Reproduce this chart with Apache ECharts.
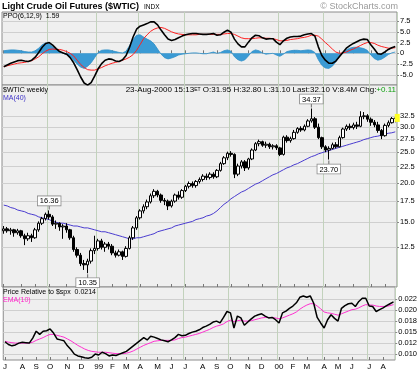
<!DOCTYPE html>
<html><head><meta charset="utf-8">
<script src="https://cdn.jsdelivr.net/npm/echarts@6/dist/echarts.min.js"></script>
<style>html,body{margin:0;padding:0;background:#fff}#c{width:420px;height:371px}</style>
</head><body><div id="c"></div>
<script>
// ---------- categories: week-ending trading days ----------
const weekEnds = (function(){const out=[];let d=new Date(Date.UTC(1998,6,3));for(let k=0;k<113;k++){out.push(d.toISOString().slice(0,10));d=new Date(d.getTime()+7*864e5);}return out;})();
const holidayWeekEnds = {'1999-01-01':'1998-12-31'};
const weeks = weekEnds.map(s => holidayWeekEnds[s] || s);

// ---------- price: [open, close, low, high] ----------
const ohlc = [
[14.1,14.3,13.8,14.6],[14.3,14.1,13.9,14.5],[14.1,14.2,13.7,14.4],[14.2,13.9,13.5,14.3],[13.9,14.1,13.7,14.3],
[14.1,13.6,13.4,14.2],[13.6,13.3,12.7,13.8],[13.3,13.6,13.1,13.9],[13.6,13.4,13.0,13.8],[13.4,14.2,13.3,14.4],
[14.2,14.9,14.0,15.1],[14.9,15.4,14.7,15.6],[15.4,15.9,15.2,16.1],[15.9,15.6,15.3,16.36],[15.6,14.8,14.6,15.8],
[14.8,14.9,14.3,15.2],[14.9,14.5,14.1,15.0],[14.5,14.6,13.3,14.8],[14.6,14.2,13.9,14.9],[14.2,13.4,13.2,14.3],
[13.4,12.3,12.1,13.6],[12.3,11.8,11.6,12.5],[11.8,11.1,10.9,12.0],[11.1,11.0,10.6,11.4],[11.0,11.3,10.35,11.5],
[11.3,12.2,11.1,12.4],[12.2,12.4,11.9,13.6],[12.4,13.1,12.2,13.3],[13.1,12.5,12.3,13.3],[12.5,12.8,12.1,13.0],
[12.8,12.6,12.3,13.0],[12.6,12.0,11.8,12.8],[12.0,11.8,11.6,12.2],[11.8,12.1,11.7,12.3],[12.1,11.7,11.4,12.2],
[11.7,12.4,11.6,12.6],[12.4,13.4,12.3,13.6],[13.4,14.4,13.2,14.6],[14.4,15.5,14.2,15.7],[15.5,16.3,15.3,16.5],
[16.3,16.8,16.0,17.1],[16.8,17.4,16.5,17.7],[17.4,18.2,17.2,18.5],[18.2,18.8,17.9,19.1],[18.8,18.3,18.0,19.0],
[18.3,17.6,17.3,18.5],[17.6,17.5,17.0,17.9],[17.5,16.9,16.4,17.7],[16.9,17.5,16.7,17.7],[17.5,18.3,17.3,18.5],
[18.3,18.0,17.7,18.8],[18.0,18.9,17.8,19.1],[18.9,19.5,18.7,19.7],[19.5,19.9,19.2,20.2],[19.9,19.6,19.3,20.2],
[19.6,20.2,19.3,20.4],[20.2,20.5,19.9,20.8],[20.5,21.0,20.2,21.3],[21.0,20.8,20.4,21.4],[20.8,21.3,20.5,21.6],
[21.3,20.9,20.6,21.6],[20.9,21.9,20.7,22.1],[21.9,23.0,21.7,23.3],[23.0,24.0,22.8,24.3],[24.0,24.8,23.6,25.1],
[24.8,24.6,24.2,25.2],[24.6,21.3,20.7,24.8],[21.3,22.6,21.0,23.0],[22.6,23.3,22.2,23.6],[23.3,22.3,21.8,23.6],
[22.3,23.8,22.0,24.0],[23.8,25.4,23.6,25.7],[25.4,26.6,25.2,26.9],[26.6,27.0,26.1,27.4],[27.0,26.3,26.0,27.2],
[26.3,26.5,25.8,27.0],[26.5,26.0,25.6,26.8],[26.0,26.2,25.5,26.5],[26.2,25.8,25.4,26.5],[25.8,24.6,24.3,26.0],
[24.6,27.9,24.4,28.2],[27.9,27.2,26.8,28.3],[27.2,27.6,26.8,28.0],[27.6,28.9,27.4,29.4],[28.9,29.7,28.6,30.0],
[29.7,29.4,29.0,30.2],[29.4,30.2,29.1,30.6],[30.2,31.4,30.0,31.8],[31.4,31.9,31.0,34.37],[31.9,30.0,29.6,32.3],
[30.0,27.8,27.5,30.8],[27.8,26.0,25.6,28.0],[26.0,25.4,25.0,26.3],[25.4,25.7,23.70,26.1],[25.7,26.4,25.5,26.8],
[26.4,26.0,25.7,26.9],[26.0,27.8,25.9,28.2],[27.8,29.6,27.6,29.9],[29.6,30.2,29.2,30.6],[30.2,29.9,29.4,30.8],
[29.9,30.5,29.5,31.0],[30.5,30.2,29.6,31.2],[30.2,32.4,30.0,33.7],[32.4,32.6,31.8,33.5],[32.6,31.8,31.2,33.0],
[31.8,31.1,30.3,32.2],[31.1,30.5,30.0,31.6],[30.5,29.3,28.8,31.2],[29.3,28.2,27.5,29.6],[28.2,30.4,28.0,30.8],
[30.4,31.0,30.0,31.5],[31.0,31.95,30.8,32.3],[31.95,32.10,31.10,32.80]
];
const ma40 = [
17.0,16.9,16.7,16.6,16.4,16.3,16.2,16.0,15.9,15.8,15.6,15.5,15.4,15.3,15.1,15.0,
14.9,14.9,14.8,14.7,14.6,14.6,14.5,14.4,14.4,14.3,14.2,14.1,14.0,14.0,13.9,
13.8,13.7,13.6,13.5,13.4,13.3,13.3,13.4,13.4,13.5,13.6,13.7,13.8,14.0,14.1,
14.2,14.3,14.4,14.6,14.7,14.8,14.9,15.0,15.1,15.3,15.4,15.5,15.7,15.8,16.0,
16.3,16.7,17.1,17.4,17.8,18.1,18.4,18.7,18.9,19.2,19.5,19.8,20.0,20.3,20.6,
20.9,21.2,21.4,21.7,22.0,22.3,22.5,22.8,23.0,23.3,23.6,23.9,24.2,24.4,24.7,
24.9,25.1,25.3,25.5,25.7,25.9,26.1,26.3,26.5,26.7,26.9,27.1,27.4,27.6,27.8,
28.0,28.1,28.3,28.5,28.7,28.8,29.0
];
const priceTicks = [12.5,15,17.5,20,22.5,25,27.5,30,32.5];
const extremeHighs = [16.36, 34.37];
const extremeLows = [10.35, 23.70];
const lastPrice = 32.10;

// ---------- PPO(6,12,9) ----------
const ppo = [
-3.1,-2.7,-2.3,-2.0,-1.7,-1.6,-1.8,-1.9,-1.6,-0.9,
0.2,1.4,2.3,2.5,1.9,1.1,0.4,0.1,-0.2,-1.0,
-2.2,-3.8,-5.5,-6.9,-7.4,-6.8,-5.3,-3.6,-2.4,-1.6,
-1.3,-1.4,-1.8,-1.9,-1.5,-0.5,1.4,3.8,5.6,6.3,
6.6,6.9,7.3,7.3,6.6,5.4,4.3,3.3,3.0,3.2,
3.6,4.0,4.3,4.5,4.6,4.6,4.5,4.4,4.4,4.5,
4.6,4.2,4.3,4.9,5.4,4.9,3.3,2.2,1.5,1.5,
2.6,3.6,4.2,4.1,3.6,3.3,3.4,3.4,2.6,2.0,
2.9,3.5,3.8,3.9,3.9,4.0,4.3,4.5,4.6,4.0,
1.5,-0.5,-1.6,-2.3,-2.3,-1.8,-0.8,0.2,1.2,1.8,
2.3,2.7,3.1,3.3,3.2,2.0,1.0,-0.1,-0.2,0.3,
0.9,1.3,1.59
];
const ppoSignal = [
-3.1,-2.9,-2.7,-2.5,-2.3,-2.2,-2.1,-1.9,-1.7,-1.3,
-0.8,-0.1,0.5,0.9,1.0,0.9,0.9,0.7,0.4,0.0,
-0.6,-1.6,-2.6,-3.3,-3.8,-3.9,-3.9,-3.6,-3.3,-2.9,
-2.6,-2.3,-2.1,-1.9,-1.6,-1.3,-0.9,-0.3,0.7,2.0,
3.4,4.3,5.1,5.6,5.9,6.0,5.8,5.4,5.0,4.7,
4.5,4.4,4.3,4.3,4.3,4.3,4.4,4.4,4.4,4.4,
4.4,4.4,4.4,4.5,4.6,4.6,4.4,4.0,3.6,3.4,
3.4,3.4,3.5,3.6,3.6,3.5,3.5,3.4,3.2,2.9,
2.9,3.0,3.2,3.3,3.4,3.6,3.7,3.9,4.2,4.2,
4.0,3.3,2.5,1.8,1.0,0.3,0.0,0.1,0.3,0.7,
1.0,1.4,1.8,2.2,2.5,2.5,2.3,1.9,1.6,1.4,
1.2,1.2,1.3
];
const ppoHist = [
0.6,0.7,0.8,0.8,0.7,0.6,0.4,0.3,0.3,0.6,
1.2,2.0,2.4,2.2,1.5,0.9,0.4,0.0,-0.3,-0.8,
-1.6,-2.5,-3.2,-3.5,-3.0,-2.2,-1.0,0.2,0.7,0.8,
0.8,0.6,0.4,0.2,0.1,0.5,1.8,3.2,4.2,4.3,
3.8,3.3,2.9,2.2,1.0,-0.2,-1.0,-1.3,-1.1,-0.8,
-0.4,-0.2,-0.1,0.0,0.1,0.1,0.0,-0.1,-0.1,0.1,
0.3,0.0,0.2,0.6,0.8,0.5,-0.8,-1.5,-1.8,-1.5,
-0.6,0.4,0.8,0.6,0.1,-0.2,-0.1,0.0,-0.4,-0.7,
-0.2,0.4,0.6,0.7,0.7,0.6,0.7,0.8,0.7,0.2,
-1.5,-2.8,-3.4,-3.5,-3.0,-2.0,-0.8,0.1,0.8,1.2,
1.4,1.4,1.3,1.1,0.7,-0.4,-1.2,-1.6,-1.4,-0.9,
-0.3,0.1,0.3
];
const ppoTicks = [-5,-2.5,0,2.5,5,7.5];

// ---------- Price relative to $SPX ----------
const relSpx = [
0.0127,0.0121,0.0118,0.0120,0.0124,0.0126,0.0125,0.0124,0.0135,0.0150,
0.0143,0.0150,0.0151,0.0155,0.0146,0.0133,0.0131,0.0129,0.0118,0.0110,
0.0100,0.0096,0.0094,0.0092,0.0091,0.0093,0.0100,0.0098,0.0104,0.0101,
0.0096,0.0098,0.0097,0.0100,0.0103,0.0106,0.0112,0.0118,0.0124,0.0130,
0.0136,0.0131,0.0139,0.0137,0.0134,0.0131,0.0129,0.0127,0.0131,0.0136,
0.0143,0.0140,0.0141,0.0145,0.0148,0.0150,0.0153,0.0158,0.0161,0.0165,
0.0170,0.0172,0.0168,0.0180,0.0193,0.0190,0.0157,0.0183,0.0179,0.0163,
0.0170,0.0177,0.0183,0.0186,0.0188,0.0183,0.0179,0.0180,0.0175,0.0168,
0.0190,0.0194,0.0200,0.0205,0.0212,0.0224,0.0227,0.0224,0.0227,0.0211,
0.0180,0.0168,0.0157,0.0175,0.0186,0.0178,0.0172,0.0200,0.0206,0.0210,
0.0211,0.0204,0.0215,0.0222,0.0222,0.0205,0.0204,0.0193,0.0197,0.0201,
0.0206,0.0210,0.0214
];
const relEma10 = [
0.0128,0.0126,0.0125,0.0124,0.0124,0.0124,0.0124,0.0124,0.0126,0.0130,
0.0133,0.0136,0.0140,0.0143,0.0143,0.0141,0.0139,0.0137,0.0133,0.0129,
0.0124,0.0119,0.0115,0.0111,0.0108,0.0106,0.0105,0.0104,0.0104,0.0104,
0.0103,0.0102,0.0101,0.0101,0.0101,0.0102,0.0104,0.0107,0.0111,0.0115,
0.0119,0.0122,0.0125,0.0128,0.0129,0.0130,0.0130,0.0130,0.0130,0.0131,
0.0134,0.0136,0.0137,0.0139,0.0141,0.0143,0.0145,0.0148,0.0151,0.0154,
0.0158,0.0161,0.0163,0.0166,0.0171,0.0174,0.0171,0.0173,0.0174,0.0172,
0.0172,0.0173,0.0175,0.0177,0.0179,0.0180,0.0180,0.0180,0.0179,0.0177,
0.0179,0.0182,0.0185,0.0188,0.0192,0.0198,0.0203,0.0207,0.0210,0.0210,
0.0205,0.0199,0.0192,0.0190,0.0189,0.0187,0.0185,0.0188,0.0191,0.0194,
0.0197,0.0198,0.0201,0.0205,0.0208,0.0207,0.0207,0.0205,0.0204,0.0204,
0.0204,0.0206,0.0208
];
const relTicks = [0.010,0.0124,0.0148,0.0172,0.0196,0.022];
const relTickLabels = ['0.010','0.012','0.015','0.018','0.020','0.022'];

// ---------- chart ----------
const FONT = '"Liberation Sans", Arial, sans-serif';
const monthStart = weeks.map((w,i)=> i===0 || w.slice(5,7)!==weeks[i-1].slice(5,7));
const quarterLine = weeks.map((w,i)=> i>0 && monthStart[i] && ['01','04','07','10'].includes(w.slice(5,7)));
function monthLabel(w){const m=+w.slice(5,7);return m===1 ? w.slice(2,4) : 'JFMAMJJASOND'[m-1];}

function catX(g, showLabel){
  return {type:'category', gridIndex:g, data:weeks, boundaryGap:true,
    axisLine:{show:false},
    axisTick:{show:true, inside:true, length:3, alignWithLabel:true, interval:(i)=>monthStart[i], lineStyle:{color:'#777'}},
    axisLabel:{show:showLabel, interval:(i)=>monthStart[i], formatter:(v)=>monthLabel(v), fontSize:8, color:'#000', margin:3, fontFamily:FONT},
    splitLine:{show:true, interval:(i)=>quarterLine[i], lineStyle:{color:'#c2d2bc', width:1}}};
}
function valY(g, min, max, ticks, fmt){
  return {type:'value', gridIndex:g, position:'right', min:min, max:max,
    axisLine:{show:false},
    axisTick:{show:true, length:2, customValues:ticks, lineStyle:{color:'#888'}},
    axisLabel:{customValues:ticks, formatter:fmt, fontSize:7.5, color:'#000', margin:3, fontFamily:FONT},
    splitLine:{show:true, lineStyle:{color:'#cfcfcf', width:1}}};
}
const gridStyle = {left:2, right:23, show:true, backgroundColor:'#efefef', borderColor:'#8c8c8c', borderWidth:1};
const ln = Math.log;
const lastIdx = weeks.length-1;
const markHigh = extremeHighs.map(v=>({coord:[weeks[ohlc.findIndex(r=>r[3]===v)], ln(v)], value:v,
   symbolOffset:[0,-3], label:{position:'top', distance:0, formatter:v.toFixed(2)}}));
const markLow = extremeLows.map(v=>({coord:[weeks[ohlc.findIndex(r=>r[2]===v)], ln(v)], value:v,
   symbolOffset:[0,3], label:{position:'bottom', distance:0, formatter:v.toFixed(2)}}));

const option = {
  animation:false, backgroundColor:'#fff', textStyle:{fontFamily:FONT},
  grid:[Object.assign({top:12, height:73}, gridStyle), Object.assign({top:85, height:202}, gridStyle), Object.assign({top:287, height:74}, gridStyle)],
  xAxis:[catX(0,false), catX(1,false), catX(2,true)],
  yAxis:[
    valY(0, -7.36, 9.6, ppoTicks, v=> v===0 ? '0' : v.toFixed(1)),
    valY(1, ln(9.36), ln(40.8), priceTicks.map(ln), v=> Math.exp(v).toFixed(1)),
    valY(2, 0.00871, 0.02465, relTicks, v=> relTickLabels[relTicks.findIndex(t=>Math.abs(t-v)<1e-6)] || '')
  ],
  series:[
    {type:'line', xAxisIndex:0, yAxisIndex:0, data:ppoHist, showSymbol:false, lineStyle:{color:'#2f8fc8', width:0.8}, areaStyle:{color:'#3a9ad4', opacity:1}, z:2},
    {type:'line', xAxisIndex:0, yAxisIndex:0, data:ppoSignal, showSymbol:false, lineStyle:{color:'#ff2020', width:1}, z:3},
    {type:'line', xAxisIndex:0, yAxisIndex:0, data:ppo, showSymbol:false, lineStyle:{color:'#000', width:1.6}, z:4},
    {type:'line', xAxisIndex:1, yAxisIndex:1, data:ma40.map(ln), showSymbol:false, lineStyle:{color:'#4a3cd0', width:1}, z:2},
    {type:'candlestick', xAxisIndex:1, yAxisIndex:1, data:ohlc.map(r=>r.map(ln)), barWidth:3,
      itemStyle:{color:'#fff', color0:'#000', borderColor:'#000', borderColor0:'#000', borderWidth:1}, z:3,
      markPoint:{symbol:'rect', symbolSize:[1,4], itemStyle:{color:'#666'}, silent:true,
        label:{show:true, fontSize:7.5, color:'#000', backgroundColor:'#fff', borderColor:'#8a8a8a', borderWidth:0.8, padding:[1,2,0,2], fontFamily:FONT},
        data: markHigh.concat(markLow).concat([{coord:[weeks[lastIdx], ln(lastPrice)], symbol:'rect', symbolSize:[5,8], symbolOffset:[2,0], itemStyle:{color:'#ffff20'}, label:{show:false}}])}},
    {type:'line', xAxisIndex:2, yAxisIndex:2, data:relEma10, showSymbol:false, lineStyle:{color:'#ff30d0', width:1}, z:2},
    {type:'line', xAxisIndex:2, yAxisIndex:2, data:relSpx, showSymbol:false, lineStyle:{color:'#000', width:1.5}, z:3}
  ],
  graphic:[
    {type:'text', left:2, top:2, z:100, style:{text:'Light Crude Oil Futures ($WTIC)', fontSize:9, fontWeight:'bold', fontFamily:FONT, fill:'#000'}},
    {type:'text', left:144, top:4, z:100, style:{text:'INDX', fontSize:6.5, fontFamily:FONT, fill:'#000'}},
    {type:'text', right:22, top:2, z:100, style:{text:'© StockCharts.com', fontSize:9, fontFamily:FONT, fill:'#9a9a9a'}},
    {type:'text', left:3, top:13, z:100, style:{text:'PPO(6,12,9)  1.59', fontSize:7, fontFamily:FONT, fill:'#000'}},
    {type:'text', left:3, top:87, z:100, style:{text:'$WTIC weekly', fontSize:7, fontFamily:FONT, fill:'#000'}},
    {type:'text', left:3, top:95, z:100, style:{text:'MA(40)', fontSize:7, fontFamily:FONT, fill:'#3c30c8'}},
    {type:'text', right:24, top:86, z:100, style:{text:'23-Aug-2000 15:13{s|ET} O:31.95 H:32.80 L:31.10 Last:32.10 V:8.4M Chg:{g|+0.11}', fontSize:8, fontFamily:FONT, fill:'#000', rich:{s:{fontSize:5, fontFamily:FONT, fill:'#000'}, g:{fontSize:8, fontFamily:FONT, fill:'#10a010'}}}},
    {type:'text', left:3, top:289, z:100, style:{text:'Price Relative to $spx  0.0214', fontSize:7, fontFamily:FONT, fill:'#000'}},
    {type:'text', left:3, top:297, z:100, style:{text:'EMA(10)', fontSize:7, fontFamily:FONT, fill:'#ff20c8'}}
  ]
};
const chart = echarts.init(document.getElementById('c'), null, {renderer:'canvas', width:420, height:371});
chart.setOption(option);
</script>
</body></html>
